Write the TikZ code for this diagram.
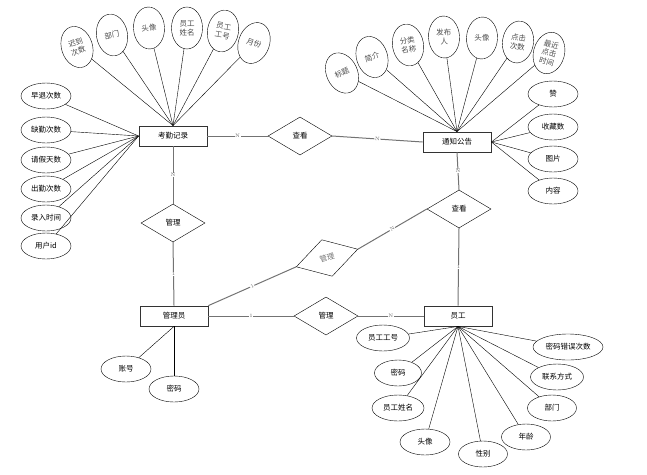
\documentclass[tikz,border=0pt]{standalone}
\usepackage{fontspec}
\newfontfamily\cjk{Noto Sans CJK SC}
\usetikzlibrary{shapes.geometric}
\definecolor{lnkgray}{rgb}{0.45,0.45,0.45}
\tikzset{
  entity/.style={draw=black!80,line width=0.8pt,minimum width=68pt,minimum height=20pt,inner sep=0pt,font=\cjk\fontsize{7.5}{8}\selectfont},
  rel/.style={draw,diamond,minimum width=64pt,minimum height=38pt,inner sep=0pt,font=\cjk\fontsize{7.5}{8}\selectfont},
  attr/.style={draw,ellipse,minimum width=50pt,minimum height=26pt,inner sep=0pt,font=\cjk\fontsize{7.5}{8}\selectfont},
  vattr/.style={draw,ellipse,minimum width=31pt,minimum height=42pt,inner sep=0pt,align=center,font=\cjk\fontsize{7.5}{9}\selectfont,text=black!70},
  card/.style={font=\fontsize{5}{5}\selectfont,text=black!60,inner sep=0.5pt,fill=white},
  rlink/.style={draw=lnkgray,line width=1pt}
}
\begin{document}
\begin{tikzpicture}[x=1pt,y=-1pt]
\useasboundingbox (0,0) rectangle (647,474);

% entities
\node[entity] (kq) at (173,136) {考勤记录};
\node[entity] (tz) at (457,142) {通知公告};
\node[entity] (gly) at (174,316) {管理员};
\node[entity] (yg) at (458,316) {员工};

% relations
\node[rel] (ck1) at (300,136) {查看};
\node[rel] (ck2) at (459,209) {查看};
\node[rel] (gl1) at (173,223) {管理};
\node[rel,rotate=16,text=black!55] (gl2) at (327,258) {管理};
\node[rel] (gl3) at (326,316) {管理};

\draw[rlink] (kq.east) -- node[card]{N} (ck1.west);
\draw[rlink] (ck1.east) -- node[card,sloped]{N} (tz.west);
\draw[rlink] (kq.south) -- node[card]{N} (gl1.north);
\draw[rlink] (gl1.south) -- node[card]{1} (gly.north);
\draw[rlink] (tz.south) -- node[card]{N} (ck2.north);
\draw[rlink] (ck2.south) -- node[card]{1} (yg.north);
\draw[rlink] (gly.east) -- node[card]{1} (gl3.west);
\draw[rlink] (gl3.east) -- node[card]{N} (yg.west);
\draw[rlink] (gly.north east) -- node[card,sloped]{1} (gl2.west);
\draw[rlink] (gl2.east) -- node[card,sloped]{N} (ck2.west);

% attributes of kq
\foreach \n/\x/\y/\r/\t in {ka1/77/47/18/{迟到\\次数},ka2/112/35/10/部门,ka3/149/28/3/头像,
    ka4/187/28/0/{员工\\姓名},ka5/223/31/-10/{员工\\工号},ka6/254/43/-20/月份}
  \node[vattr,rotate=\r] (\n) at (\x,\y) {\t};
\foreach \n in {ka1,ka2,ka3,ka4,ka5,ka6}
  \draw (kq.north) -- (\n);
\foreach \n/\y/\t in {kb1/96/早退次数,kb2/130/缺勤次数,kb3/160/请假天数,kb4/189/出勤次数,
    kb5/218/录入时间,kb6/246/用户id}
  \node[attr] (\n) at (46,\y) {\t};
\foreach \n in {kb1,kb2,kb3,kb4,kb5,kb6}
  \draw (kq.west) -- (\n);

% attributes of tz
\foreach \n/\x/\y/\r/\t in {ta1/342/73/25/标题,ta2/372/57/18/简介,ta3/408/45/10/{分类\\名称},
    ta4/444/37/3/{发布\\人},ta5/482/38/-3/头像,ta6/518/42/-8/{点击\\次数},
    ta7/549/53/-15/{最近\\点击\\时间}}
  \node[vattr,rotate=\r] (\n) at (\x,\y) {\t};
\foreach \n in {ta1,ta2,ta3,ta4,ta5,ta6,ta7}
  \draw (tz.north) -- (\n);
\foreach \n/\y/\t in {tb1/94/赞,tb2/127/收藏数,tb3/159/图片,tb4/191/内容}
  \node[attr] (\n) at (553,\y) {\t};
\foreach \n in {tb1,tb2,tb3,tb4}
  \draw (tz.east) -- (\n);

% attributes of gly
\node[attr] (ga1) at (126,369) {账号};
\node[attr] (ga2) at (174,389) {密码};
\foreach \n in {ga1,ga2}
  \draw (gly.south) -- (\n);

% attributes of yg
\foreach \n/\x/\y/\w/\t in {ya1/383/338/53/员工工号,ya2/398/373/47/密码,ya3/398/408/52/员工姓名,
    ya4/425/442/50/头像,ya5/483/454/49/性别,ya6/526/437/49/年龄,ya7/552/408/49/部门,
    ya8/557/377/53/联系方式,ya9/568/347/70/密码错误次数}
  \node[attr,minimum width=\w] (\n) at (\x,\y) {\t};
\foreach \n in {ya1,ya2,ya3,ya4,ya5,ya6,ya7,ya8,ya9}
  \draw (yg.south) -- (\n);

\end{tikzpicture}
\end{document}
